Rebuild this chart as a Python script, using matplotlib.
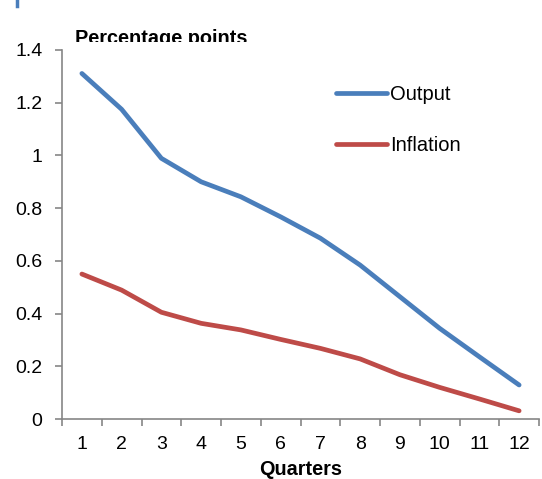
import numpy as np
import matplotlib.pyplot as plt
from matplotlib.transforms import Bbox

plt.rcParams['font.family'] = ['Liberation Sans', 'DejaVu Sans']

# dados
trimestres = ['1', '2', '3', '4', '5', '6', '7', '8', '9', '10', '11', '12']
produto = [1.311, 1.175, 0.989, 0.900, 0.843, 0.767, 0.686, 0.584, 0.464, 0.344, 0.236, 0.129]
inflacao = [0.550, 0.489, 0.405, 0.363, 0.338, 0.302, 0.268, 0.228, 0.168, 0.120, 0.076, 0.031]

azul = '#4A7EBB'
vermelho = '#BE4B48'
cinza = '#868686'

fig = plt.figure(figsize=(5.42, 4.79), dpi=100)
ax = fig.add_axes([62 / 542, 60 / 479, 477 / 542, 369 / 479])

x = np.arange(len(trimestres))
ax.plot(x, produto, color=azul, lw=3.4, solid_capstyle='round', label='Output')
ax.plot(x, inflacao, color=vermelho, lw=3.4, solid_capstyle='round', label='Inflation')

ax.set_xlim(-0.5, len(trimestres) - 0.5)
ax.set_ylim(0, 1.4)
ax.set_yticks(np.arange(0, 1.41, 0.2))
ax.set_yticklabels(['0', '0.2', '0.4', '0.6', '0.8', '1', '1.2', '1.4'])
ax.set_xticks(x)
ax.set_xticklabels(trimestres)
ax.set_xticks(np.arange(-0.5, len(trimestres)), minor=True)

for lado in ['top', 'right']:
    ax.spines[lado].set_visible(False)
for lado in ['left', 'bottom']:
    ax.spines[lado].set_color(cinza)
    ax.spines[lado].set_linewidth(1.2)

ax.tick_params(axis='y', length=5, color=cinza, width=1.2, labelsize=14, pad=9)
ax.tick_params(axis='x', which='major', length=0, labelsize=14, pad=12)
ax.tick_params(axis='x', which='minor', length=5, color=cinza, width=1.2)

ax.set_xlabel('Quarters', fontsize=14.3, fontweight='bold', labelpad=5)

leg = ax.legend(loc='upper left', bbox_to_anchor=(0.537, 0.955), frameon=False,
                fontsize=14.5, handlelength=2.5, handletextpad=0.15, labelspacing=1.6)

titulo = fig.text(75 / 542, 1 - 44 / 479, 'Percentage points', fontsize=14.3,
                  fontweight='bold', ha='left', va='baseline')
titulo.set_clip_box(Bbox.from_extents(0, 479 - 42, 542, 479))
titulo.set_clip_on(True)

fig.add_artist(plt.Line2D([17 / 542, 17 / 542], [1.0, 1 - 6 / 479],
                          color=azul, lw=2.5, transform=fig.transFigure))

fig.savefig('out.png', dpi=100)
